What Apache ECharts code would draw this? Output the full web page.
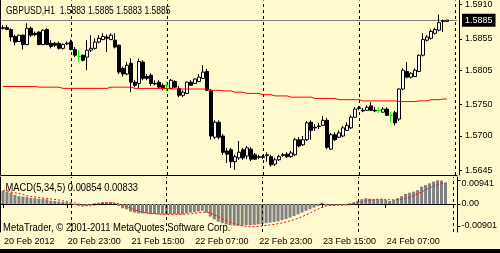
<!DOCTYPE html>
<html><head><meta charset="utf-8">
<script src="https://cdn.jsdelivr.net/npm/echarts@6/dist/echarts.min.js"></script>
<style>html,body{margin:0;padding:0;background:#FFFACD;}#c{width:500px;height:253px;}</style>
</head><body><div id="c"></div>
<script>
const FONT = "'Liberation Sans',Arial,sans-serif";
const symbolTitle = 'GBPUSD,H1  1.5883 1.5885 1.5883 1.5885';
const macdTitle = 'MACD(5,34,5) 0.00854 0.00833';
const copyright = 'MetaTrader, \u00a9 2001-2011 MetaQuotes Software Corp.';
const tickLabels = ['20 Feb 2012','20 Feb 23:00','21 Feb 15:00','22 Feb 07:00','22 Feb 23:00','23 Feb 15:00','24 Feb 07:00'];
const priceTicks = [1.5645, 1.5700, 1.5750, 1.5805, 1.5855, 1.5910];
const macdTicks = [-0.00901, 0, 0.00941];
const daySeparators = [17, 41, 65, 89, 113];
const bid = 1.5885;
const slotCount = 114;
// [open, close, low, high]
const ohlc = [
[1.5873,1.5872,1.5870,1.5877],[1.5873,1.5870,1.5869,1.5877],[1.5870,1.5858,1.5851,1.5872],[1.5859,1.5850,1.5845,1.5862],
[1.5851,1.5861,1.5850,1.5862],[1.5861,1.5846,1.5838,1.5862],[1.5846,1.5872,1.5845,1.5880],[1.5872,1.5861,1.5858,1.5875],
[1.5864,1.5862,1.5859,1.5867],[1.5866,1.5846,1.5845,1.5867],[1.5846,1.5869,1.5845,1.5870],[1.5870,1.5846,1.5845,1.5872],
[1.5848,1.5843,1.5840,1.5853],[1.5848,1.5845,1.5842,1.5850],[1.5848,1.5840,1.5838,1.5851],[1.5840,1.5846,1.5838,1.5848],
[1.5848,1.5847,1.5845,1.5851],[1.5850,1.5838,1.5837,1.5854],[1.5838,1.5829,1.5826,1.5842],[1.5827,1.5827,1.5818,1.5837],
[1.5829,1.5821,1.5819,1.5830],[1.5826,1.5837,1.5805,1.5853],[1.5837,1.5840,1.5834,1.5861],[1.5840,1.5850,1.5838,1.5856],
[1.5850,1.5856,1.5848,1.5861],[1.5854,1.5859,1.5853,1.5864],[1.5858,1.5856,1.5834,1.5862],[1.5854,1.5861,1.5853,1.5864],
[1.5853,1.5842,1.5840,1.5864],[1.5845,1.5802,1.5799,1.5846],[1.5808,1.5799,1.5795,1.5811],[1.5799,1.5813,1.5797,1.5818],
[1.5816,1.5786,1.5770,1.5824],[1.5786,1.5781,1.5778,1.5789],[1.5784,1.5819,1.5776,1.5824],[1.5818,1.5792,1.5789,1.5821],
[1.5795,1.5792,1.5789,1.5799],[1.5797,1.5784,1.5780,1.5800],[1.5784,1.5783,1.5781,1.5789],[1.5786,1.5778,1.5775,1.5789],
[1.5781,1.5776,1.5773,1.5784],[1.5780,1.5780,1.5772,1.5787],[1.5776,1.5789,1.5775,1.5791],[1.5787,1.5778,1.5776,1.5789],
[1.5776,1.5765,1.5762,1.5780],[1.5765,1.5770,1.5762,1.5773],[1.5768,1.5786,1.5767,1.5787],[1.5786,1.5781,1.5780,1.5789],
[1.5784,1.5791,1.5783,1.5792],[1.5787,1.5794,1.5786,1.5799],[1.5792,1.5802,1.5791,1.5813],[1.5803,1.5773,1.5772,1.5807],
[1.5772,1.5700,1.5694,1.5775],[1.5698,1.5722,1.5695,1.5725],[1.5722,1.5698,1.5695,1.5725],[1.5700,1.5674,1.5670,1.5703],
[1.5676,1.5671,1.5657,1.5681],[1.5678,1.5659,1.5649,1.5681],[1.5659,1.5667,1.5646,1.5670],[1.5665,1.5674,1.5662,1.5692],
[1.5678,1.5665,1.5662,1.5681],[1.5668,1.5681,1.5663,1.5684],[1.5679,1.5663,1.5660,1.5682],[1.5670,1.5663,1.5662,1.5673],
[1.5667,1.5666,1.5663,1.5670],[1.5667,1.5666,1.5663,1.5670],[1.5670,1.5669,1.5659,1.5674],[1.5667,1.5654,1.5651,1.5670],
[1.5655,1.5662,1.5652,1.5665],[1.5662,1.5667,1.5660,1.5670],[1.5670,1.5669,1.5667,1.5673],[1.5671,1.5667,1.5665,1.5674],
[1.5667,1.5673,1.5665,1.5676],[1.5670,1.5694,1.5668,1.5697],[1.5694,1.5684,1.5682,1.5698],[1.5686,1.5694,1.5684,1.5700],
[1.5694,1.5721,1.5692,1.5724],[1.5722,1.5709,1.5694,1.5725],[1.5714,1.5713,1.5708,1.5719],[1.5716,1.5715,1.5711,1.5721],
[1.5717,1.5725,1.5716,1.5732],[1.5725,1.5682,1.5679,1.5729],[1.5679,1.5702,1.5678,1.5705],[1.5702,1.5694,1.5692,1.5706],
[1.5698,1.5705,1.5697,1.5709],[1.5700,1.5713,1.5698,1.5716],[1.5709,1.5717,1.5708,1.5722],[1.5713,1.5730,1.5711,1.5733],
[1.5730,1.5743,1.5729,1.5746],[1.5745,1.5744,1.5741,1.5748],[1.5741,1.5740,1.5738,1.5745],[1.5741,1.5746,1.5740,1.5749],
[1.5748,1.5741,1.5740,1.5754],[1.5741,1.5740,1.5738,1.5746],[1.5741,1.5741,1.5737,1.5746],[1.5738,1.5743,1.5737,1.5746],
[1.5743,1.5733,1.5732,1.5746],[1.5733,1.5733,1.5722,1.5738],[1.5737,1.5721,1.5717,1.5740],[1.5727,1.5775,1.5724,1.5776],
[1.5775,1.5805,1.5773,1.5808],[1.5803,1.5794,1.5792,1.5818],[1.5794,1.5800,1.5792,1.5802],[1.5795,1.5805,1.5794,1.5808],
[1.5803,1.5829,1.5802,1.5830],[1.5829,1.5854,1.5827,1.5864],[1.5853,1.5858,1.5851,1.5861],[1.5856,1.5867,1.5854,1.5870],
[1.5864,1.5870,1.5862,1.5873],[1.5869,1.5881,1.5867,1.5894],[1.5883,1.5884,1.5866,1.5886],[1.5883,1.5885,1.5883,1.5885]
];
const movingAverage = [
1.5779,1.5779,1.5779,1.5779,1.5779,1.5779,1.5779,1.5779,1.5779,
1.5778,1.5778,1.5778,1.5778,1.5778,1.5778,
1.5776,1.5776,1.5776,1.5776,1.5776,1.5776,1.5776,1.5776,1.5776,1.5776,1.5776,1.5776,
1.5778,1.5778,1.5778,1.5778,1.5778,1.5778,
1.5776,1.5776,1.5776,1.5776,1.5776,1.5776,1.5776,1.5776,1.5776,
1.5775,1.5775,1.5775,1.5775,1.5775,1.5775,1.5775,1.5775,1.5775,1.5775,
1.5773,1.5773,1.5773,1.5772,1.5772,1.5772,1.5770,1.5770,1.5770,
1.5768,1.5768,1.5768,1.5768,1.5766,1.5766,1.5766,1.5764,1.5764,1.5764,1.5764,
1.5762,1.5762,1.5762,1.5762,1.5762,1.5762,1.5760,1.5760,1.5760,1.5760,1.5760,1.5760,
1.5758,1.5758,1.5758,1.5758,1.5758,1.5758,
1.5756,1.5756,1.5756,1.5756,1.5756,1.5756,1.5756,1.5756,1.5756,
1.5755,1.5755,1.5755,1.5755,1.5755,1.5756,1.5756,1.5756,1.5758,1.5758,1.5758,1.5759,1.5759
];
const macdHist = [
0.0052,0.0049,0.0045,0.0036,0.0031,0.0029,0.0027,0.0024,0.0023,0.0021,
0.0021,0.0019,0.0013,0.0012,0.0010,0.0008,0.0007,0.0005,-0.0004,-0.0008,
-0.0010,-0.0008,-0.0003,0.0003,0.0005,0.0008,0.0007,0.0008,0.0003,-0.0008,
-0.0017,-0.0021,-0.0030,-0.0034,-0.0037,-0.0037,-0.0037,-0.0040,-0.0040,-0.0041,
-0.0041,-0.0041,-0.0040,-0.0040,-0.0041,-0.0041,-0.0037,-0.0034,-0.0033,-0.0030,
-0.0027,-0.0034,-0.0050,-0.0061,-0.0070,-0.0076,-0.0081,-0.0084,-0.0086,-0.0086,
-0.0086,-0.0084,-0.0084,-0.0083,-0.0081,-0.0079,-0.0076,-0.0074,-0.0071,-0.0069,
-0.0064,-0.0060,-0.0054,-0.0048,-0.0041,-0.0034,-0.0027,-0.0021,-0.0014,-0.0008,
0.0005,-0.0006,-0.0007,-0.0008,-0.0006,-0.0006,-0.0004,0.0003,0.0008,0.0013,
0.0019,0.0023,0.0021,0.0019,0.0019,0.0019,0.0016,0.0012,0.0016,0.0023,
0.0031,0.0040,0.0045,0.0049,0.0055,0.0069,0.0075,0.0082,0.0089,0.00941,
0.0093,0.00854
];
const macdSignal = [
0.0053,0.0052,0.0048,0.0044,0.0042,0.0038,0.0032,0.0030,0.0028,0.0026,
0.0024,0.0023,0.0020,0.0018,0.0016,0.0013,0.0010,0.0007,0.0004,0.0000,
-0.0004,-0.0007,-0.0007,-0.0004,0.0000,0.0003,0.0005,0.0005,0.0004,0.0001,
-0.0004,-0.0011,-0.0016,-0.0023,-0.0028,-0.0033,-0.0036,-0.0038,-0.0039,-0.0040,
-0.0041,-0.0041,-0.0041,-0.0041,-0.0041,-0.0041,-0.0040,-0.0039,-0.0037,-0.0035,
-0.0033,-0.0032,-0.0036,-0.0042,-0.0050,-0.0058,-0.0066,-0.0073,-0.0078,-0.0083,
-0.0087,-0.0089,-0.0090,-0.00901,-0.0089,-0.0087,-0.0085,-0.0083,-0.0081,-0.0078,
-0.0075,-0.0071,-0.0067,-0.0062,-0.0057,-0.0050,-0.0044,-0.0036,-0.0028,-0.0020,
-0.0013,-0.0008,-0.0005,-0.0004,-0.0004,-0.0004,-0.0004,-0.0003,0.0000,0.0004,
0.0008,0.0012,0.0016,0.0017,0.0019,0.0019,0.0018,0.0017,0.0017,0.0018,
0.0018,0.0022,0.0027,0.0033,0.0040,0.0048,0.0056,0.0064,0.0071,0.0077,
0.0081,0.00833
];

const cats = Array.from({length: slotCount}, (_, i) => String(i));
const isTick = (i) => i % 16 === 0 && i / 16 < tickLabels.length;
const txt = {fontFamily: FONT, fontSize: 9, color: '#000'};
const blackLine = {lineStyle: {color: '#000', width: 1}};
const sepLines = daySeparators.map(i => ({xAxis: i}));
const TFONT = '11px ' + FONT;

const chart = echarts.init(document.getElementById('c'), null, {renderer: 'canvas'});
chart.setOption({
  animation: false,
  backgroundColor: '#FFFACD',
  grid: [
    {left: 1, top: 0, width: 456, height: 175},
    {left: 1, top: 177, width: 456, height: 55}
  ],
  xAxis: [
    {gridIndex: 0, type: 'category', data: cats, axisLine: blackLine, axisTick: {show: false}, axisLabel: {show: false}, splitLine: {show: false}},
    {gridIndex: 1, type: 'category', data: cats, position: 'bottom', axisLine: blackLine,
     axisTick: {show: true, alignWithLabel: true, length: 4, interval: (i) => isTick(i), lineStyle: {color: '#000'}},
     axisLabel: Object.assign({interval: (i) => isTick(i), align: 'left', margin: 5, padding: [0,0,0,1], hideOverlap: false,
       formatter: (v, i) => isTick(i) ? tickLabels[i / 16] : ''}, txt), splitLine: {show: false}},
    {gridIndex: 1, type: 'category', data: cats, position: 'top', axisLine: blackLine, axisTick: {show: false}, axisLabel: {show: false}}
  ],
  yAxis: [
    {gridIndex: 0, type: 'value', position: 'right', offset: 2, min: 1.56377, max: 1.59164,
     axisLine: Object.assign({show: true}, blackLine), splitLine: {show: false},
     axisTick: {show: true, length: 3, customValues: priceTicks, lineStyle: {color: '#000'}},
     axisLabel: Object.assign({customValues: priceTicks, margin: 6, formatter: v => v.toFixed(4)}, txt)},
    {gridIndex: 0, type: 'value', position: 'left', offset: 1, min: 1.56377, max: 1.59164,
     axisLine: Object.assign({show: true}, blackLine), axisTick: {show: false}, axisLabel: {show: false}, splitLine: {show: false}},
    {gridIndex: 1, type: 'value', position: 'right', offset: 2, min: -0.011111, max: 0.010714,
     axisLine: Object.assign({show: true}, blackLine), splitLine: {show: false},
     axisTick: {show: true, length: 3, customValues: macdTicks, lineStyle: {color: '#000'}},
     axisLabel: Object.assign({customValues: macdTicks, margin: 4,
       formatter: v => v === 0 ? '0.00' : (v > 0 ? '{hi|' + v.toFixed(5) + '}' : '{lo|' + v.toFixed(5) + '}'),
       rich: {hi: Object.assign({padding: [6, 0, 0, 0]}, txt), lo: Object.assign({padding: [0, 0, 3, 0]}, txt)}}, txt)},
    {gridIndex: 1, type: 'value', position: 'left', offset: 1, min: -0.011111, max: 0.010714,
     axisLine: Object.assign({show: true}, blackLine), axisTick: {show: false}, axisLabel: {show: false}, splitLine: {show: false}}
  ],
  graphic: [
    {type: 'text', x: 6, y: 5, scaleX: 0.77, style: {text: symbolTitle, font: TFONT, fill: '#000', verticalAlign: 'top'}},
    {type: 'text', x: 5.5, y: 182, scaleX: 0.85, style: {text: macdTitle, font: TFONT, fill: '#000', verticalAlign: 'top'}},
    {type: 'text', x: 3, y: 222, scaleX: 0.86, style: {text: copyright, font: TFONT, fill: '#000', verticalAlign: 'top'}},
    {type: 'rect', x: 0, y: 249, shape: {width: 500, height: 4}, style: {fill: '#000'}}
  ],
  series: [
    {type: 'candlestick', xAxisIndex: 0, yAxisIndex: 0, data: ohlc, barWidth: 3, z: 3,
     itemStyle: {color: '#ffffff', color0: '#000000', borderColor: '#000000', borderColor0: '#000000', borderColorDoji: '#00ff00', borderWidth: 1},
     markLine: {silent: true, symbol: ['none', 'none'], z: 1, precision: 5,
       data: [{yAxis: bid, lineStyle: {color: '#808080', type: 'solid', width: 1},
               label: {show: true, position: 'end', distance: 5, align: 'left', verticalAlign: 'middle',
                       formatter: bid.toFixed(4), color: '#fff', backgroundColor: '#000',
                       padding: [2, 3, 2, 3], fontFamily: FONT, fontSize: 9}}]
         .concat(sepLines.map(d => Object.assign({lineStyle: {color: '#000', type: [3, 3], width: 1}, label: {show: false}}, d)))}},
    {type: 'line', xAxisIndex: 0, yAxisIndex: 0, data: movingAverage, step: 'middle', symbol: 'none', z: 4,
     lineStyle: {color: '#ff0000', width: 1}},
    {type: 'bar', xAxisIndex: 1, yAxisIndex: 2, data: macdHist, barWidth: 3, itemStyle: {color: '#808080'},
     markLine: {silent: true, symbol: ['none', 'none'], label: {show: false},
       lineStyle: {color: '#000', type: [3, 3], width: 1}, data: sepLines}},
    {type: 'line', xAxisIndex: 1, yAxisIndex: 2, data: macdSignal, symbol: 'none', z: 4,
     lineStyle: {color: '#ff0000', width: 1, type: [2, 2]}}
  ]
});
</script></body></html>
